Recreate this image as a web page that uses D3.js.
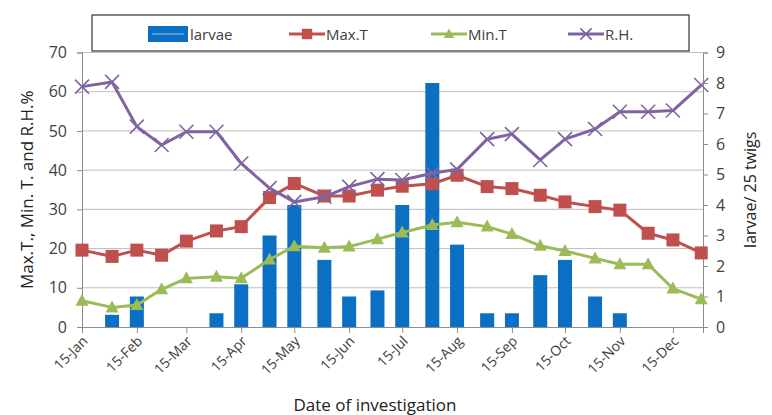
<!DOCTYPE html>
<html>
<head>
<meta charset="utf-8">
<script src="https://cdn.jsdelivr.net/npm/d3@7"></script>
<style>
  html, body { margin: 0; padding: 0; background: #fff; }
  svg { display: block; font-family: "Open Sans", "Liberation Sans", sans-serif; }
</style>
</head>
<body>
<svg id="chart" width="772" height="415"></svg>
<script>
// Sampling dates (1st and 15th of each month)
const dates = [
  "2013-01-15", "2013-02-01", "2013-02-15", "2013-03-01", "2013-03-15", "2013-04-01",
  "2013-04-15", "2013-05-01", "2013-05-15", "2013-06-01", "2013-06-15", "2013-07-01",
  "2013-07-15", "2013-08-01", "2013-08-15", "2013-09-01", "2013-09-15", "2013-10-01",
  "2013-10-15", "2013-11-01", "2013-11-15", "2013-12-01", "2013-12-15", "2013-12-31"
];
// larvae / 25 twigs (right axis)
const larvae = [0, 0.4, 1, 0, 0, 0.45, 1.4, 3, 4, 2.2, 1, 1.2,
                4, 8, 2.7, 0.45, 0.45, 1.7, 2.2, 1, 0.45, 0, 0, 0];
// Maximum temperature
const maxT = [19.6, 18, 19.6, 18.3, 21.9, 24.5, 25.6, 33, 36.6, 33.4, 33.4, 34.9,
              35.9, 36.5, 38.7, 35.8, 35.3, 33.6, 31.9, 30.7, 29.8, 23.9, 22.2, 18.9];
// Minimum temperature
const minT = [6.7, 5, 5.6, 9.6, 12.4, 12.8, 12.4, 17.2, 20.6, 20.2, 20.5, 22.4,
              24.1, 26, 26.7, 25.6, 23.7, 20.7, 19.4, 17.5, 16, 16, 9.8, 7.1];
// Relative humidity %
const rh = [61.3, 62.5, 51.1, 46.4, 49.8, 49.8, 41.7, 35.4, 31.9, 33.2, 35.8, 37.7,
            37.5, 39.2, 40.2, 47.9, 49.2, 42.6, 47.9, 50.5, 54.9, 54.9, 55.2, 61.7];

// Axis ticks
const leftTicks = [0, 10, 20, 30, 40, 50, 60, 70];
const rightTicks = [0, 1, 2, 3, 4, 5, 6, 7, 8, 9];
const tickMonths = ["Jan", "Feb", "Mar", "Apr", "May", "Jun", "Jul", "Aug", "Sep", "Oct", "Nov", "Dec"];

const C = { bar: "#0B6FC4", barLine: "#5B9BD5", maxT: "#C0504D", minT: "#9BBB59", rh: "#8064A2",
            grid: "#BFBFBF", axis: "#8C8C8C", text: "#404040" };

const svg = d3.select("#chart");
const parse = d3.timeParse("%Y-%m-%d");
const dts = dates.map(parse);
const plot = { left: 82, right: 703, top: 52.5, bottom: 327 };

const x = d3.scaleTime()
  .domain([parse("2013-01-15"), parse("2014-01-01")])
  .range([plot.left, plot.right]);
const yL = d3.scaleLinear().domain([0, 70]).range([plot.bottom, plot.top]);
const yR = d3.scaleLinear().domain([0, 9]).range([plot.bottom, plot.top]);

// Horizontal gridlines
svg.append("g").selectAll("line").data(leftTicks.filter(d => d > 0)).join("line")
  .attr("x1", plot.left).attr("x2", plot.right)
  .attr("y1", d => yL(d)).attr("y2", d => yL(d))
  .attr("stroke", C.grid).attr("stroke-width", 1);

// Left axis
const axL = svg.append("g").attr("transform", `translate(${plot.left},0)`)
  .call(d3.axisLeft(yL).tickValues(leftTicks).tickSize(5).tickPadding(10));
// Right axis
const axR = svg.append("g").attr("transform", `translate(${plot.right},0)`)
  .call(d3.axisRight(yR).tickValues(rightTicks).tickSize(5).tickPadding(8));
// Bottom axis
const tickDates = tickMonths.map((m, i) => new Date(2013, i, 15));
const axB = svg.append("g").attr("transform", `translate(0,${plot.bottom})`)
  .call(d3.axisBottom(x).tickValues(tickDates).tickSize(6).tickFormat(d3.timeFormat("%d-%b")));

[axL, axR, axB].forEach(g => {
  g.select(".domain").attr("stroke", C.axis);
  g.selectAll(".tick line").attr("stroke", C.axis);
  g.selectAll("text").attr("fill", C.text).style("font-size", "16px")
    .style("font-family", "'Open Sans', sans-serif");
});
axB.selectAll("text").style("font-size", "14px")
  .attr("text-anchor", "end")
  .attr("dy", null).attr("y", null)
  .attr("transform", "translate(6,15) rotate(-45)");

// Larvae bars
const bw = 14;
svg.append("g").selectAll("rect").data(dts.map((d, i) => ({ d, v: larvae[i] })).filter(o => o.v > 0)).join("rect")
  .attr("x", o => x(o.d) - bw / 2).attr("width", bw)
  .attr("y", o => yR(o.v)).attr("height", o => yR(0) - yR(o.v))
  .attr("fill", C.bar);

// Lines with markers
function series(vals, color, marker) {
  const pts = dts.map((d, i) => [x(d), yL(vals[i])]);
  const g = svg.append("g");
  g.append("path").attr("d", d3.line()(pts)).attr("fill", "none")
    .attr("stroke", color).attr("stroke-width", 3).attr("stroke-linejoin", "round");
  pts.forEach(p => drawMarker(g, marker, p[0], p[1], color, 1));
}
function drawMarker(g, marker, cx, cy, color, k) {
  if (marker === "square") {
    const s = 6.5 * k;
    g.append("rect").attr("x", cx - s).attr("y", cy - s).attr("width", 2 * s).attr("height", 2 * s)
      .attr("fill", color);
  } else if (marker === "triangle") {
    g.append("path").attr("d", `M${cx},${cy - 7 * k} L${cx + 6.5 * k},${cy + 5 * k} L${cx - 6.5 * k},${cy + 5 * k} Z`)
      .attr("fill", color);
  } else {
    const s = 7 * k;
    g.append("path").attr("d", `M${cx - s},${cy - s} L${cx + s},${cy + s} M${cx - s},${cy + s} L${cx + s},${cy - s}`)
      .attr("stroke", color).attr("stroke-width", 1.6).attr("fill", "none");
  }
}
series(maxT, C.maxT, "square");
series(minT, C.minT, "triangle");
series(rh, C.rh, "x");

// Axis titles
svg.append("text").attr("transform", `translate(33,${(plot.top + plot.bottom) / 2}) rotate(-90)`)
  .attr("text-anchor", "middle").attr("fill", "#222").style("font-size", "17px")
  .text("Max.T., Min. T. and  R.H.%");
svg.append("text").attr("transform", `translate(756,${(plot.top + plot.bottom) / 2}) rotate(-90)`)
  .attr("text-anchor", "middle").attr("fill", "#222").style("font-size", "16px")
  .text("larvae/ 25 twigs");
svg.append("text").attr("x", 375).attr("y", 411)
  .attr("text-anchor", "middle").attr("fill", "#222").style("font-size", "17px")
  .text("Date of investigation");

// Legend
const lg = svg.append("g");
lg.append("rect").attr("x", 92).attr("y", 15).attr("width", 597).attr("height", 36)
  .attr("fill", "#fff").attr("stroke", "#333").attr("stroke-width", 1.2);
const ly = 34;
lg.append("rect").attr("x", 148).attr("y", ly - 8).attr("width", 40).attr("height", 16).attr("fill", C.bar);
lg.append("line").attr("x1", 152).attr("x2", 184).attr("y1", ly).attr("y2", ly)
  .attr("stroke", C.barLine).attr("stroke-width", 2);
const legendItems = [
  { name: "larvae", x: 190 },
  { name: "Max.T", x0: 289, color: C.maxT, marker: "square" },
  { name: "Min.T", x0: 431, color: C.minT, marker: "triangle" },
  { name: "R.H.", x0: 568, color: C.rh, marker: "x" }
];
legendItems.forEach(it => {
  let tx = it.x;
  if (it.marker) {
    lg.append("line").attr("x1", it.x0).attr("x2", it.x0 + 36).attr("y1", ly).attr("y2", ly)
      .attr("stroke", it.color).attr("stroke-width", 3);
    drawMarker(lg, it.marker, it.x0 + 18, ly, it.color, 0.8);
    tx = it.x0 + 37;
  }
  lg.append("text").attr("x", tx).attr("y", ly + 5.5).attr("fill", C.text)
    .style("font-size", "15px").text(it.name);
});
</script>
</body>
</html>
